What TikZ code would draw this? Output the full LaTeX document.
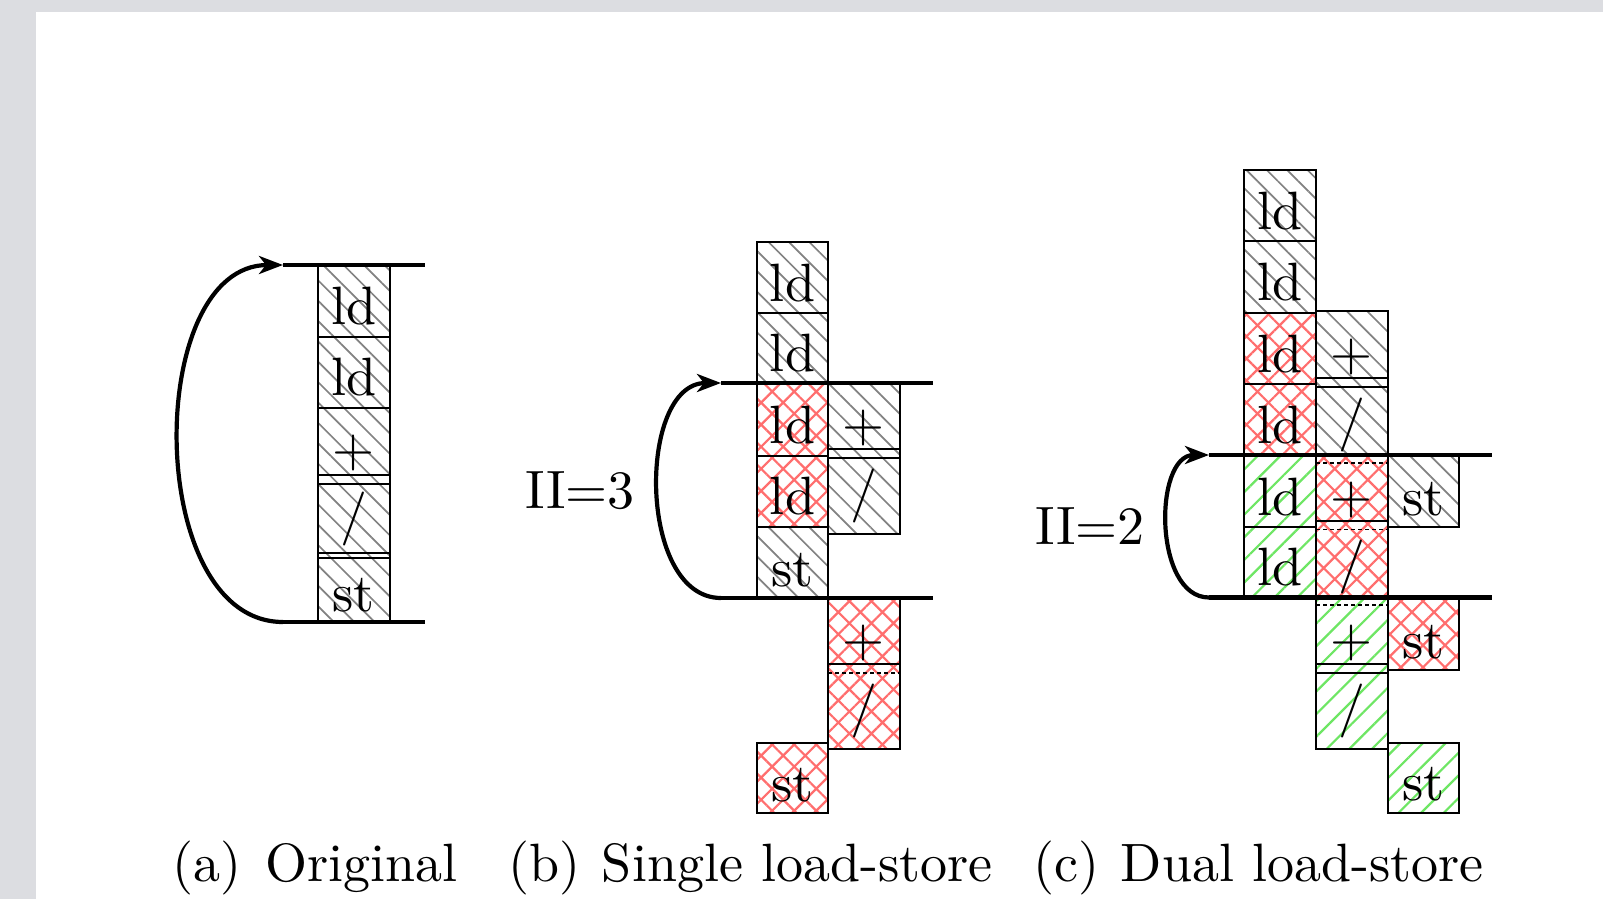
\documentclass[tikz,border=0pt]{standalone}
\usepackage{fontspec}
\setmainfont{lmroman10-regular.otf}
\usetikzlibrary{patterns.meta,arrows.meta}
\definecolor{bggray}{RGB}{220,221,225}
\definecolor{hatchgray}{RGB}{130,130,130}
\definecolor{hatchred}{RGB}{255,110,110}
\definecolor{hatchgreen}{RGB}{110,230,100}
\begin{document}
\begin{tikzpicture}[x=0.5pt,y=-0.5pt,
  grayp/.style={pattern={Lines[angle=-45,distance=7.2pt,line width=0.85pt]},pattern color=hatchgray},
  redp/.style={pattern={Hatch[angle=45,distance=7.8pt,line width=1.1pt]},pattern color=hatchred},
  greenp/.style={pattern={Lines[angle=45,distance=8pt,line width=1.1pt]},pattern color=hatchgreen},
  boxline/.style={draw=black,line width=1pt},
  dashline/.style={draw=black,line width=0.8pt,dash pattern=on 2pt off 1.5pt},
  iterline/.style={line width=2.1pt},
  loopline/.style={line width=2.1pt,-{Stealth[length=12pt,width=9pt,inset=3.5pt]}},
  lbl/.style={inner sep=0pt,font=\fontsize{27}{32}\selectfont},
  txt/.style={lbl,anchor=base},
  captext/.style={lbl,anchor=base west},
]
% background
\fill[bggray] (0,0) rectangle (1603,899);
\fill[white] (36,12) rectangle (1603,899);
\useasboundingbox (0,0) rectangle (1603,899);

%%%%%%%%%%%%%%%% (a) Original
\path[grayp] (318,265) rectangle (389.5,622);
\draw[boxline] (318,265) rectangle (389.5,622);
\draw[boxline] (318,265) rectangle (389.5,336.5);
\draw[boxline] (318,336.5) rectangle (389.5,407.8);
\draw[boxline] (318,407.8) rectangle (389.5,475);
\draw[boxline] (318,484) rectangle (389.5,553);
\draw[boxline] (318,558) rectangle (389.5,622);
\node[txt] (a-ld1) at (353.75,324.5) {ld};
\node[txt] (a-ld2) at (353.75,395.8) {ld};
\node[lbl] (a-add) at (353.75,453.4) {+};
\node[lbl] (a-div) at (353.75,518.5) {/};
\node[txt] (a-st) at (353.75,611) {st};
\coordinate (aTL) at (283,265); \coordinate (aTR) at (425,265);
\coordinate (aBL) at (283,622); \coordinate (aBR) at (425,622);
\draw[iterline] (aTL) -- (aTR);
\draw[iterline] (aBL) -- (aBR);
\draw[loopline] (aBL) to[out=180,in=180] (aTL);
\node[captext] (a-cap) at (172,881) {(a)\hspace{0.45em}Original};

%%%%%%%%%%%%%%%% (b) Single load-store
% column 1
\path[grayp] (757,241.7) rectangle (828,383);
\draw[boxline] (757,241.7) rectangle (828,313);
\draw[boxline] (757,313) rectangle (828,383);
\path[redp] (757,383) rectangle (828,526.8);
\draw[boxline] (757,383) rectangle (828,455.5);
\draw[boxline] (757,455.5) rectangle (828,526.8);
\path[grayp] (757,526.8) rectangle (828,598);
\draw[boxline] (757,526.8) rectangle (828,598);
\path[redp] (757,742.7) rectangle (828,813.3);
\draw[boxline] (757,742.7) rectangle (828,813.3);
% column 2
\path[grayp] (828,383) rectangle (899.5,533.5);
\draw[boxline] (828,383) rectangle (899.5,533.5);
\draw[boxline] (828,383) rectangle (899.5,449);
\draw[boxline] (828,458) rectangle (899.5,533.5);
\path[redp] (828,598) rectangle (899.5,748.5);
\draw[boxline] (828,598) rectangle (899.5,748.5);
\draw[boxline] (828,598) rectangle (899.5,663.5);
\draw[dashline] (828,673) -- (899.5,673);
% labels
\node[txt] (b-ld1) at (792.5,301) {ld};
\node[txt] (b-ld2) at (792.5,371) {ld};
\node[txt] (b-ld3) at (792.5,443.5) {ld};
\node[txt] (b-ld4) at (792.5,514.8) {ld};
\node[txt] (b-st1) at (792.5,586) {st};
\node[txt] (b-st2) at (792.5,801.3) {st};
\node[lbl] (b-add1) at (863.75,428) {+};
\node[lbl] (b-div1) at (863.75,495.7) {/};
\node[lbl] (b-add2) at (863.75,642.7) {+};
\node[lbl] (b-div2) at (863.75,710.7) {/};
\coordinate (bTL) at (721,383); \coordinate (bTR) at (933,383);
\coordinate (bBL) at (721,598); \coordinate (bBR) at (933,598);
\draw[iterline] (bTL) -- (bTR);
\draw[iterline] (bBL) -- (bBR);
\draw[loopline] (bBL) to[out=180,in=180] (bTL);
\node[lbl,anchor=east] (b-ii) at (635,490.5) {II=3};
\node[captext] (b-cap) at (508,881) {(b)\hspace{0.4em}Single load-store};

%%%%%%%%%%%%%%%% (c) Dual load-store
% column 1
\path[grayp] (1244,170) rectangle (1316,312.6);
\draw[boxline] (1244,170) rectangle (1316,241);
\draw[boxline] (1244,241) rectangle (1316,312.6);
\path[redp] (1244,312.6) rectangle (1316,455);
\draw[boxline] (1244,312.6) rectangle (1316,384);
\draw[boxline] (1244,384) rectangle (1316,455);
\path[greenp] (1244,455) rectangle (1316,597.5);
\draw[boxline] (1244,455) rectangle (1316,527);
\draw[boxline] (1244,527) rectangle (1316,597.5);
% column 2
\path[grayp] (1316,311) rectangle (1387.5,462.7);
\draw[boxline] (1316,311) rectangle (1387.5,462.7);
\draw[boxline] (1316,311) rectangle (1387.5,378.3);
\draw[boxline] (1316,386.7) rectangle (1387.5,462.7);
\fill[white] (1316,455) rectangle (1387.5,605);
\path[redp] (1316,455) rectangle (1387.5,605);
\draw[boxline] (1316,455) rectangle (1387.5,605);
\draw[boxline] (1316,455) rectangle (1387.5,520.7);
\draw[dashline] (1316,462.7) -- (1387.5,462.7);
\draw[dashline] (1316,529.3) -- (1387.5,529.3);
\fill[white] (1316,597.5) rectangle (1387.5,749.3);
\path[greenp] (1316,597.5) rectangle (1387.5,749.3);
\draw[boxline] (1316,597.5) rectangle (1387.5,749.3);
\draw[boxline] (1316,597.5) rectangle (1387.5,664);
\draw[boxline] (1316,672.7) rectangle (1387.5,749.3);
\draw[dashline] (1316,605) -- (1387.5,605);
% column 3
\path[grayp] (1387.5,455) rectangle (1459,527.3);
\draw[boxline] (1387.5,455) rectangle (1459,527.3);
\path[redp] (1387.5,598) rectangle (1459,670);
\draw[boxline] (1387.5,598) rectangle (1459,670);
\path[greenp] (1387.5,742.7) rectangle (1459,812.7);
\draw[boxline] (1387.5,742.7) rectangle (1459,812.7);
% labels
\node[txt] (c-ld1) at (1280,229) {ld};
\node[txt] (c-ld2) at (1280,300.6) {ld};
\node[txt] (c-ld3) at (1280,372) {ld};
\node[txt] (c-ld4) at (1280,443) {ld};
\node[txt] (c-ld5) at (1280,515) {ld};
\node[txt] (c-ld6) at (1280,585.5) {ld};
\node[lbl] (c-add1) at (1351.75,356.7) {+};
\node[lbl] (c-div1) at (1351.75,424.7) {/};
\node[lbl] (c-add2) at (1351.75,499.9) {+};
\node[lbl] (c-div2) at (1351.75,567.2) {/};
\node[lbl] (c-add3) at (1351.75,642.8) {+};
\node[lbl] (c-div3) at (1351.75,711) {/};
\node[txt] (c-st1) at (1423.25,515.3) {st};
\node[txt] (c-st2) at (1423.25,658) {st};
\node[txt] (c-st3) at (1423.25,800.7) {st};
\coordinate (cTL) at (1209,455); \coordinate (cTR) at (1492,455);
\coordinate (cBL) at (1209,597.5); \coordinate (cBR) at (1492,597.5);
\draw[iterline] (cTL) -- (cTR);
\draw[iterline] (cBL) -- (cBR);
\draw[loopline] (cBL) to[out=180,in=180] (cTL);
\node[lbl,anchor=east] (c-ii) at (1145,526) {II=2};
\node[captext] (c-cap) at (1033,881) {(c)\hspace{0.4em}Dual load-store};
\end{tikzpicture}
\end{document}
